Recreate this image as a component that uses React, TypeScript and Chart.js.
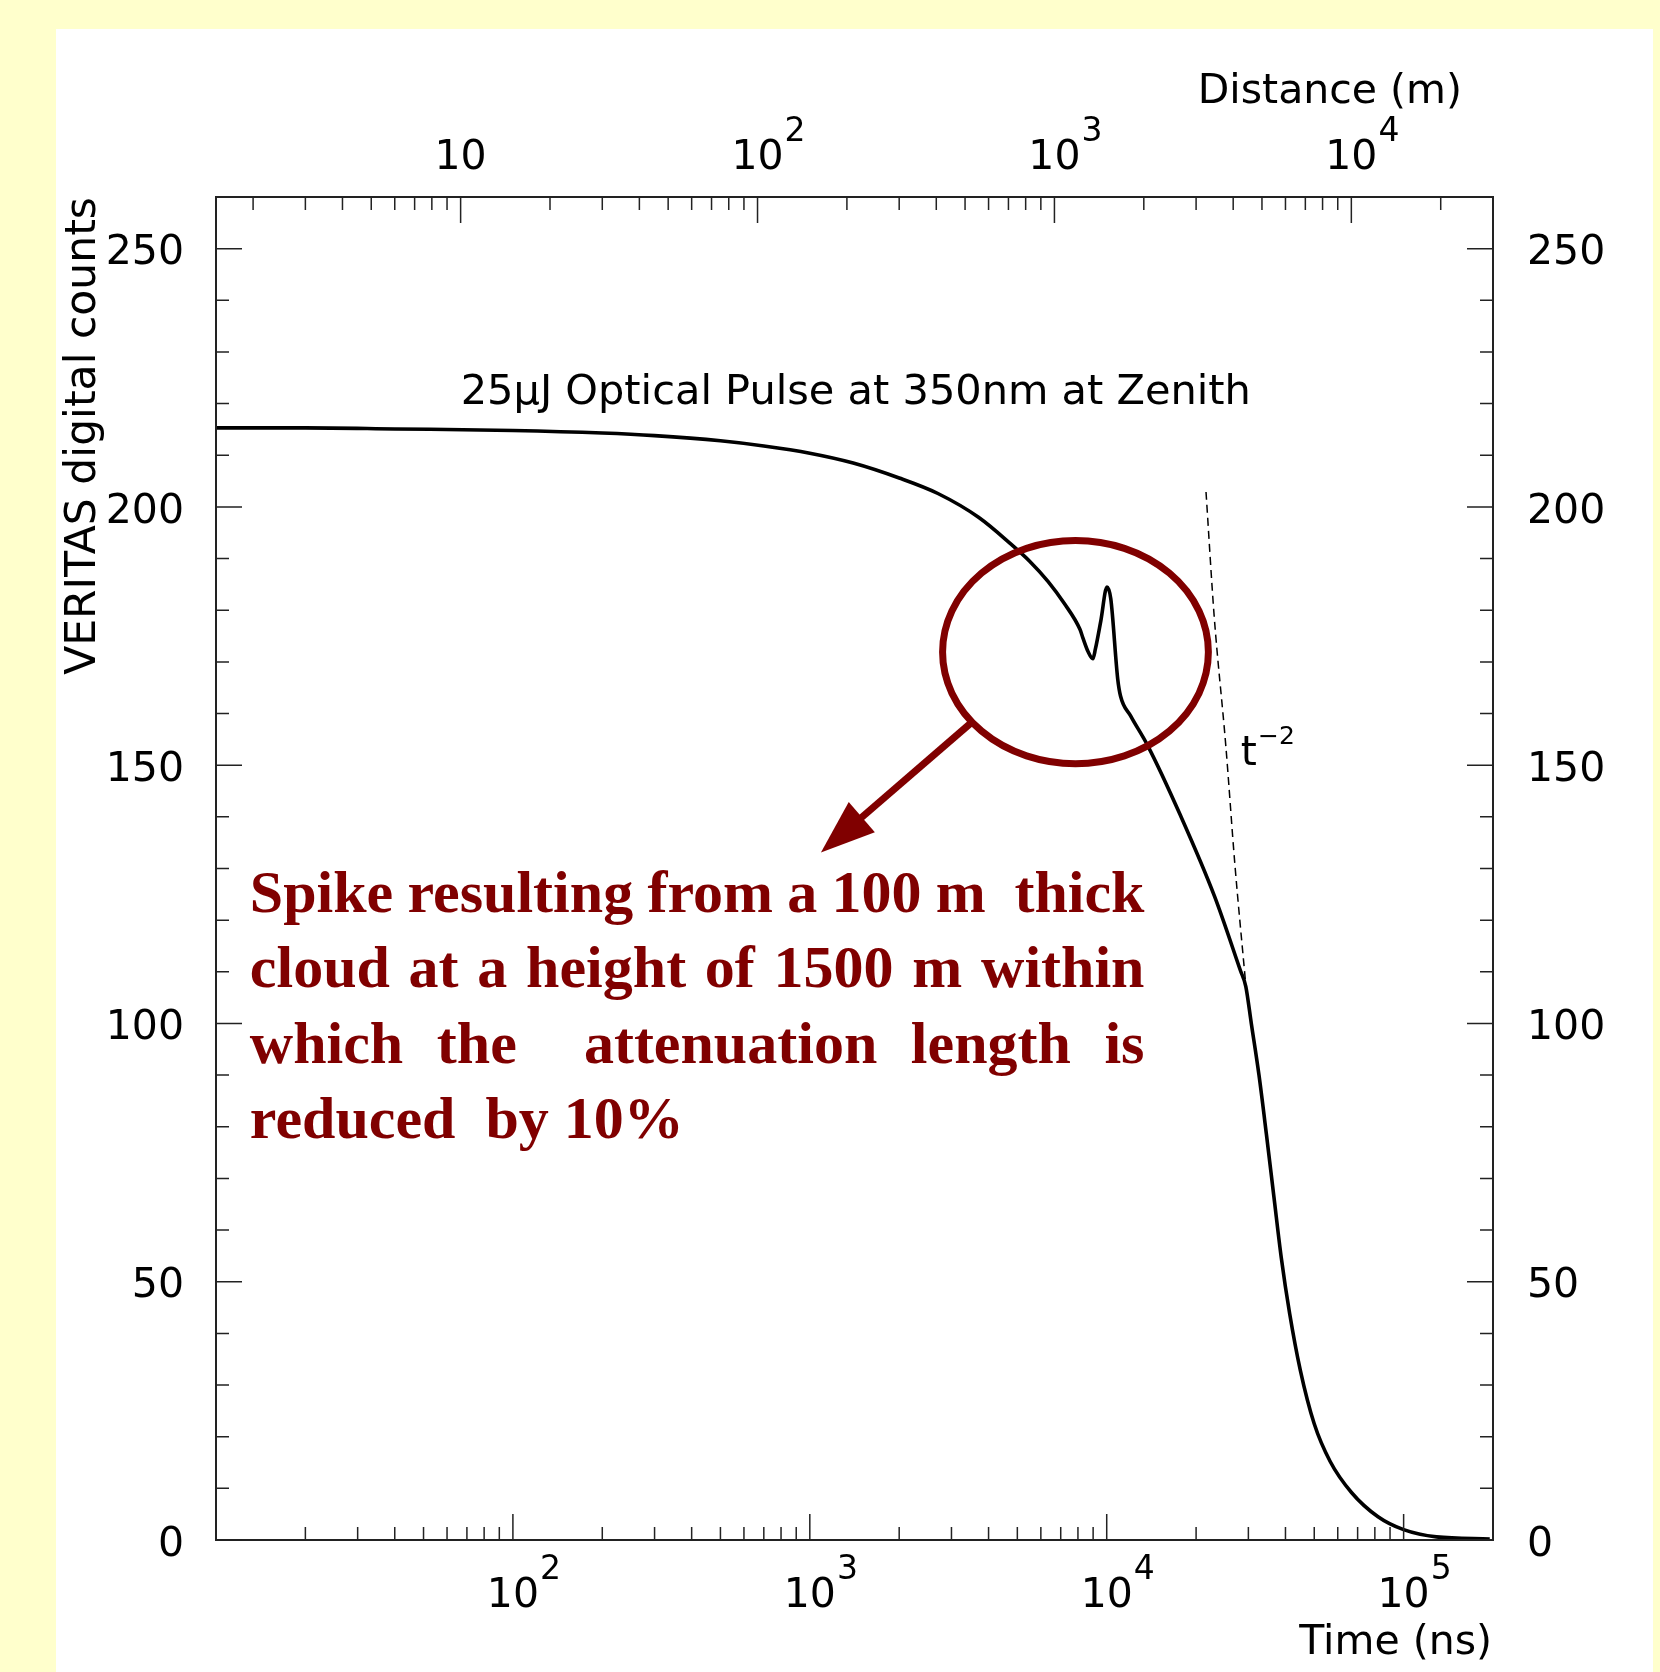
import React, { useEffect, useRef } from "react";
import { Chart, registerables } from "chart.js";

Chart.register(...registerables);

// ---- data ----
const TIME_NS = [10, 20, 40, 100, 200, 300, 500, 700, 1000, 1400, 2000, 2700, 3700, 4760, 5500, 6340, 7200, 8124, 8306, 8650, 8980, 9160, 9550, 10020, 10320, 10890, 11130, 12050, 13740, 17740, 23080, 28220, 29400, 30690, 32570, 34510, 36560, 38730, 41330, 44870, 49990, 56580, 66740, 82000, 100000, 129000, 195000];
const COUNTS = [215.3, 215.3, 215.1, 214.8, 214.3, 213.8, 212.8, 211.8, 210.4, 208.5, 205.6, 202.6, 198.0, 192.8, 189.5, 185.6, 181.3, 176.3, 174.7, 172.0, 170.6, 172.5, 177.9, 184.5, 182.2, 166.7, 163.4, 159.5, 153.8, 140.2, 124.6, 110.2, 107.2, 100.0, 90.0, 78.5, 66.5, 54.6, 43.8, 32.9, 22.5, 15.2, 9.2, 4.5, 2.0, 0.6, 0.2];

const T2_TIME_NS = [21600, 23000, 25180, 27000, 29400];
const T2_COUNTS = [202.9, 179.0, 153.8, 131.0, 107.5];

// axes
const X_MIN = 10;
const X_MAX = 200000;
const Y_MIN = 0;
const Y_MAX = 260;
const M_PER_NS = 0.15; // distance (m) = c * t / 2

const Y_MAJOR = [0, 50, 100, 150, 200, 250];
const Y_MINOR = [10, 20, 30, 40, 60, 70, 80, 90, 110, 120, 130, 140, 160, 170, 180, 190, 210, 220, 230, 240];
const Y_LABELS = ["0", "50", "100", "150", "200", "250"];

const X_MAJOR = [100, 1000, 10000, 100000];
const X_EXP = ["2", "3", "4", "5"];
const X_MINOR = [20, 30, 40, 50, 60, 70, 80, 90, 200, 300, 400, 500, 600, 700, 800, 900, 2000, 3000, 4000, 5000, 6000, 7000, 8000, 9000, 20000, 30000, 40000, 50000, 60000, 70000, 80000, 90000];

const D_MAJOR = [10, 100, 1000, 10000];
const D_EXP = ["", "2", "3", "4"];
const D_MINOR = [2, 3, 4, 5, 6, 7, 8, 9, 20, 30, 40, 50, 60, 70, 80, 90, 200, 300, 400, 500, 600, 700, 800, 900, 2000, 3000, 4000, 5000, 6000, 7000, 8000, 9000, 20000];

// texts
const TITLE = "25μJ Optical Pulse at 350nm at Zenith";
const X_TITLE = "Time (ns)";
const X2_TITLE = "Distance (m)";
const Y_TITLE = "VERITAS digital counts";
const NOTE_LINES = [
  "Spike resulting from a 100 m  thick",
  "cloud at a height of 1500 m within",
  "which  the    attenuation  length  is",
  "reduced  by 10%",
];
const NOTE_JUSTIFY = [true, true, true, false];

// annotation anchors in data units
const TITLE_T = 66.7;
const TITLE_V = 219.9;
const POW_T = 28300;
const POW_V = 150.1;
const ELLIPSE_T = [2800, 22000];
const ELLIPSE_V = [150.3, 193.5];
const ARROW_FROM = [3560, 158.6];
const ARROW_TO = [1090, 133.1];
const NOTE_T = [13, 13400];
const NOTE_V = [121.6, 107.0, 92.4, 77.8];

const RED = "#800000";
const INK = "#222222";
const SANS = '"DejaVu Sans"';

function drawPow(ctx: CanvasRenderingContext2D, cx: number, baseline: number, base: string, exp: string) {
  ctx.font = `41px ${SANS}`;
  ctx.textAlign = "left";
  ctx.textBaseline = "alphabetic";
  const w = ctx.measureText(base).width;
  ctx.fillText(base, cx - w / 2, baseline);
  if (exp) {
    ctx.font = `33px ${SANS}`;
    ctx.fillText(exp, cx + w / 2 + 1, baseline - 28);
  }
}

const decor = {
  id: "decor",
  beforeDraw(chart: any) {
    const ctx = chart.ctx as CanvasRenderingContext2D;
    ctx.save();
    ctx.fillStyle = "#ffffcc";
    ctx.fillRect(0, 0, chart.width, chart.height);
    ctx.fillStyle = "#ffffff";
    ctx.fillRect(56, 29, 1653 - 56, chart.height - 29);
    ctx.restore();
  },
  afterDatasetsDraw(chart: any) {
    const ctx = chart.ctx as CanvasRenderingContext2D;
    const { left, right, top, bottom } = chart.chartArea;
    const xs = chart.scales.x;
    const x2 = chart.scales.x2;
    const ys = chart.scales.y;
    ctx.save();

    // frame
    ctx.strokeStyle = INK;
    ctx.lineWidth = 2;
    ctx.strokeRect(left, top, right - left, bottom - top);

    // ticks
    ctx.lineWidth = 1.5;
    ctx.beginPath();
    const MAJ = 26;
    const MIN = 13;
    Y_MAJOR.forEach((v) => {
      const p = ys.getPixelForValue(v);
      ctx.moveTo(left, p); ctx.lineTo(left + MAJ, p);
      ctx.moveTo(right, p); ctx.lineTo(right - MAJ, p);
    });
    Y_MINOR.forEach((v) => {
      const p = ys.getPixelForValue(v);
      ctx.moveTo(left, p); ctx.lineTo(left + MIN, p);
      ctx.moveTo(right, p); ctx.lineTo(right - MIN, p);
    });
    X_MAJOR.forEach((t) => {
      const p = xs.getPixelForValue(t);
      ctx.moveTo(p, bottom); ctx.lineTo(p, bottom - MAJ);
    });
    X_MINOR.forEach((t) => {
      const p = xs.getPixelForValue(t);
      if (p > left && p < right) { ctx.moveTo(p, bottom); ctx.lineTo(p, bottom - MIN); }
    });
    D_MAJOR.forEach((d) => {
      const p = x2.getPixelForValue(d);
      ctx.moveTo(p, top); ctx.lineTo(p, top + MAJ);
    });
    D_MINOR.forEach((d) => {
      const p = x2.getPixelForValue(d);
      if (p > left && p < right) { ctx.moveTo(p, top); ctx.lineTo(p, top + MIN); }
    });
    ctx.stroke();

    // axis labels
    ctx.fillStyle = "#000";
    ctx.font = `41px ${SANS}`;
    ctx.textBaseline = "middle";
    Y_MAJOR.forEach((v, i) => {
      const p = ys.getPixelForValue(v) + 5;
      ctx.textAlign = "right";
      ctx.fillText(Y_LABELS[i], left - 32, p);
      ctx.textAlign = "left";
      ctx.fillText(Y_LABELS[i], right + 34, p);
    });
    X_MAJOR.forEach((t, i) => drawPow(ctx, xs.getPixelForValue(t), bottom + 67, "10", X_EXP[i]));
    D_MAJOR.forEach((d, i) => drawPow(ctx, x2.getPixelForValue(d), top - 28, "10", D_EXP[i]));

    ctx.font = `41px ${SANS}`;
    ctx.textBaseline = "alphabetic";
    ctx.textAlign = "right";
    ctx.fillText(X_TITLE, right - 1, bottom + 114);
    ctx.fillText(X2_TITLE, right - 31, top - 94);
    ctx.save();
    ctx.font = `42.5px ${SANS}`;
    ctx.translate(left - 121, top);
    ctx.rotate(-Math.PI / 2);
    ctx.textAlign = "right";
    ctx.fillText(Y_TITLE, 0, 0);
    ctx.restore();

    // title
    ctx.font = `41.5px ${SANS}`;
    ctx.textAlign = "left";
    ctx.fillText(TITLE, xs.getPixelForValue(TITLE_T), ys.getPixelForValue(TITLE_V));

    // t^-2 label
    const px = xs.getPixelForValue(POW_T);
    const py = ys.getPixelForValue(POW_V);
    ctx.font = `41px ${SANS}`;
    ctx.fillText("t", px, py);
    const tw = ctx.measureText("t").width;
    ctx.font = `25px ${SANS}`;
    ctx.fillText("−2", px + tw + 1, py - 21);

    // ellipse
    ctx.strokeStyle = RED;
    ctx.fillStyle = RED;
    ctx.lineWidth = 7;
    const ex0 = xs.getPixelForValue(ELLIPSE_T[0]);
    const ex1 = xs.getPixelForValue(ELLIPSE_T[1]);
    const ey0 = ys.getPixelForValue(ELLIPSE_V[0]);
    const ey1 = ys.getPixelForValue(ELLIPSE_V[1]);
    ctx.beginPath();
    ctx.ellipse((ex0 + ex1) / 2, (ey0 + ey1) / 2, (ex1 - ex0) / 2, Math.abs(ey0 - ey1) / 2, 0, 0, Math.PI * 2);
    ctx.stroke();

    // arrow
    const sx = xs.getPixelForValue(ARROW_FROM[0]);
    const sy = ys.getPixelForValue(ARROW_FROM[1]);
    const tx = xs.getPixelForValue(ARROW_TO[0]);
    const ty = ys.getPixelForValue(ARROW_TO[1]);
    const ang = Math.atan2(ty - sy, tx - sx);
    const HL = 54;
    const HW = 20;
    const bx = tx - HL * Math.cos(ang);
    const by = ty - HL * Math.sin(ang);
    ctx.beginPath();
    ctx.moveTo(sx, sy);
    ctx.lineTo(bx + 4 * Math.cos(ang), by + 4 * Math.sin(ang));
    ctx.stroke();
    ctx.beginPath();
    ctx.moveTo(tx, ty);
    ctx.lineTo(bx + HW * Math.sin(ang), by - HW * Math.cos(ang));
    ctx.lineTo(bx - HW * Math.sin(ang), by + HW * Math.cos(ang));
    ctx.closePath();
    ctx.fill();

    // note text
    ctx.font = `bold 60px "Liberation Serif"`;
    ctx.textAlign = "left";
    ctx.textBaseline = "alphabetic";
    const nl = xs.getPixelForValue(NOTE_T[0]);
    const nr = xs.getPixelForValue(NOTE_T[1]);
    const spaceW = ctx.measureText(" ").width;
    NOTE_LINES.forEach((line, i) => {
      const by2 = ys.getPixelForValue(NOTE_V[i]);
      const parts = line.split(" ");
      const natural = ctx.measureText(line).width;
      const gaps = parts.length - 1;
      const extra = NOTE_JUSTIFY[i] && gaps > 0 ? (nr - nl - natural) / gaps : 0;
      let cx = nl;
      parts.forEach((w, k) => {
        if (w) ctx.fillText(w, cx, by2);
        cx += ctx.measureText(w).width;
        if (k < gaps) cx += spaceW + extra;
      });
    });

    ctx.restore();
  },
};

export default function App() {
  const ref = useRef<HTMLCanvasElement | null>(null);
  useEffect(() => {
    if (!ref.current) return;
    const chart = new Chart(ref.current, {
      type: "line",
      data: {
        datasets: [
          {
            data: TIME_NS.map((t, i) => ({ x: t, y: COUNTS[i] })),
            borderColor: "#000",
            borderWidth: 3.6,
            pointRadius: 0,
            cubicInterpolationMode: "monotone",
            fill: false,
          },
          {
            data: T2_TIME_NS.map((t, i) => ({ x: t, y: T2_COUNTS[i] })),
            borderColor: "#000",
            borderWidth: 1.5,
            borderDash: [8, 5],
            pointRadius: 0,
            cubicInterpolationMode: "monotone",
            fill: false,
          },
        ],
      },
      options: {
        animation: false,
        responsive: false,
        devicePixelRatio: 1,
        parsing: false,
        layout: { padding: { left: 216, top: 197, right: 1660 - 1493, bottom: 1672 - 1540 } },
        plugins: { legend: { display: false }, tooltip: { enabled: false } },
        scales: {
          x: { type: "logarithmic", min: X_MIN, max: X_MAX, display: false },
          x2: { type: "logarithmic", position: "top", min: X_MIN * M_PER_NS, max: X_MAX * M_PER_NS, display: false },
          y: { type: "linear", min: Y_MIN, max: Y_MAX, display: false },
        },
      },
      plugins: [decor],
    } as any);
    return () => chart.destroy();
  }, []);
  return (
    <div style={{ position: "absolute", left: 0, top: 0, width: 1660, height: 1672 }}>
      <canvas ref={ref} width={1660} height={1672} style={{ display: "block" }} />
    </div>
  );
}
